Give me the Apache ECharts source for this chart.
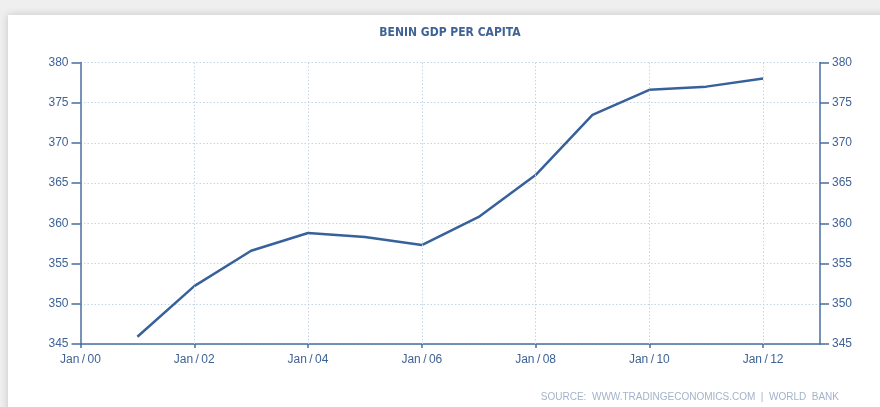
<!DOCTYPE html>
<html>
<head>
<meta charset="utf-8">
<script src="https://cdn.jsdelivr.net/npm/echarts@6/dist/echarts.min.js"></script>
<style>
  html, body { margin:0; padding:0; width:880px; height:407px; overflow:hidden; background:#efefef; }
  #card { position:absolute; left:8px; top:15px; width:900px; height:420px; background:#fff; box-shadow:0 0 8px rgba(0,0,0,0.18); }
  #chart { position:absolute; left:0; top:0; width:880px; height:407px; }
</style>
</head>
<body>
<div id="card"></div>
<div id="chart"></div>
<script>
const years = [2001, 2002, 2003, 2004, 2005, 2006, 2007, 2008, 2009, 2010, 2011, 2012];
const gdpPerCapita = [345.9, 352.2, 356.6, 358.8, 358.3, 357.3, 360.8, 366.0, 373.5, 376.6, 377.0, 378.0];
const xTickYears = [2000, 2002, 2004, 2006, 2008, 2010, 2012];
const xTickLabels = ['Jan/00', 'Jan/02', 'Jan/04', 'Jan/06', 'Jan/08', 'Jan/10', 'Jan/12'];

const axisColor = '#4a6e9f';
const labelColor = '#3f6396';
const gridColor = '#c4d4e7';
const gridDash = [1.5, 2];
const fontFam = '"Liberation Sans", Arial, sans-serif';

const chart = echarts.init(document.getElementById('chart'));
chart.setOption({
  animation: false,
  backgroundColor: 'transparent',
  graphic: [{
    type: 'text', x: 450, y: 33,
    style: {
      text: 'BENIN GDP PER CAPITA', align: 'center', verticalAlign: 'middle',
      fill: '#3f6396', font: 'bold 12px "Liberation Sans Narrow", "DejaVu Sans Condensed", sans-serif'
    }
  }, {
    type: 'text', right: 41, top: 392,
    style: {
      text: 'SOURCE:  WWW.TRADINGECONOMICS.COM  |  WORLD  BANK',
      fill: '#a3b3c9', font: '10px "Liberation Sans", Arial, sans-serif'
    }
  }],
  grid: { left: 80.5, right: 60, top: 62.5, bottom: 63, containLabel: false },
  xAxis: {
    type: 'value', min: 2000, max: 2013, interval: 1,
    axisLine: { show: true, lineStyle: { color: axisColor, width: 1.5 } },
    axisTick: { show: true, length: 4, lineStyle: { color: axisColor, width: 1.5 }, customValues: xTickYears },
    axisLabel: {
      color: labelColor, fontSize: 12, fontFamily: fontFam, margin: 10,
      customValues: xTickYears,
      formatter: v => { const i = xTickYears.indexOf(v); return i >= 0 ? xTickLabels[i].replace('/', '\u2009/\u2009') : ''; }
    },
    splitLine: { show: false }
  },
  yAxis: [{
    type: 'value', min: 345, max: 380, interval: 5, position: 'left',
    axisLine: { show: true, lineStyle: { color: axisColor, width: 1.5 } },
    axisTick: { show: true, inside: false, length: 9, lineStyle: { color: axisColor, width: 1.5 } },
    axisLabel: { color: labelColor, fontSize: 12, fontFamily: fontFam, margin: 12 },
    splitLine: { show: true, lineStyle: { color: gridColor, type: gridDash, width: 1 } }
  }, {
    type: 'value', min: 345, max: 380, interval: 5, position: 'right',
    axisLine: { show: true, lineStyle: { color: axisColor, width: 1.5 } },
    axisTick: { show: true, inside: false, length: 9, lineStyle: { color: axisColor, width: 1.5 } },
    axisLabel: { color: labelColor, fontSize: 12, fontFamily: fontFam, margin: 12 },
    splitLine: { show: false }
  }],
  series: [{
    type: 'line',
    data: years.map((y, i) => [y, gdpPerCapita[i]]),
    showSymbol: false, symbol: 'none',
    lineStyle: { color: '#37619b', width: 2.5 },
    markLine: {
      silent: true, symbol: 'none', label: { show: false },
      lineStyle: { color: gridColor, type: gridDash, width: 1 },
      data: xTickYears.slice(1).map(v => ({ xAxis: v }))
    },
    z: 3
  }]
});
</script>
</body>
</html>
